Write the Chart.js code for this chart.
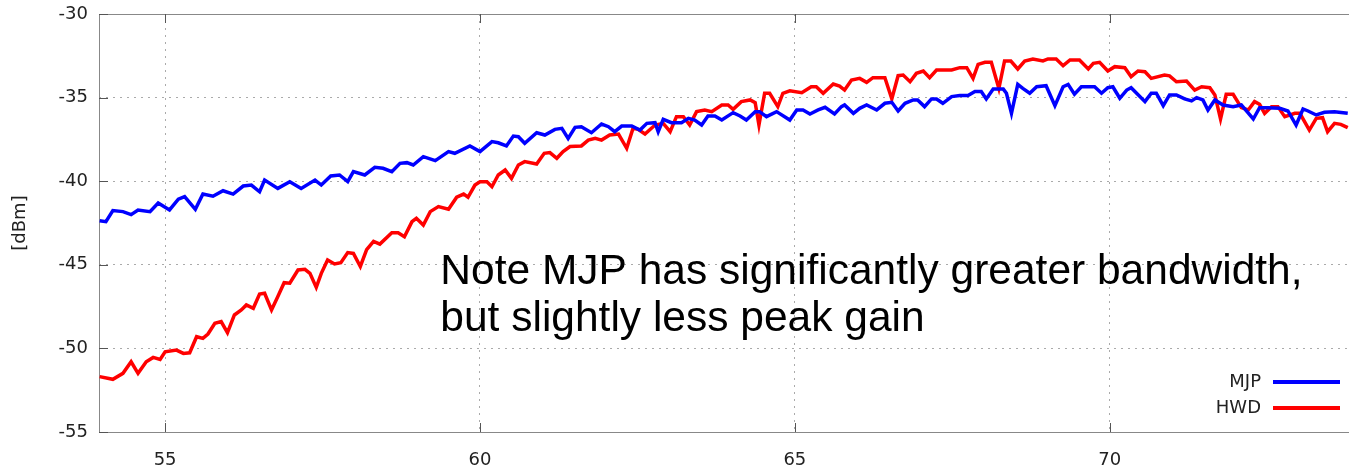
<!DOCTYPE html>
<html>
<head>
<meta charset="utf-8">
<script src="https://cdn.jsdelivr.net/npm/chart.js@4.4.1/dist/chart.umd.min.js"></script>
<style>
  html, body { margin: 0; padding: 0; background: #fff; }
  canvas { display: block; }
</style>
</head>
<body>
<canvas id="gain" width="1349" height="469"></canvas>
<script>
// ── data (frequency, level in dBm) ────────────────────────────────
const mjpX = [
  53.96, 54.06, 54.17, 54.33, 54.46, 54.57, 54.76, 54.89, 55.07, 55.21, 55.31, 55.48, 55.60, 55.76,
  55.92, 56.08, 56.24, 56.37, 56.50, 56.58, 56.79, 56.98, 57.16, 57.38, 57.48, 57.63, 57.77, 57.90,
  57.99, 58.17, 58.33, 58.46, 58.60, 58.73, 58.84, 58.94, 59.10, 59.29, 59.50, 59.60, 59.84, 60.00,
  60.19, 60.29, 60.42, 60.53, 60.61, 60.71, 60.90, 61.03, 61.19, 61.30, 61.40, 61.51, 61.61, 61.77,
  61.93, 62.04, 62.14, 62.25, 62.41, 62.54, 62.65, 62.78, 62.83, 62.91, 63.04, 63.20, 63.31, 63.41,
  63.52, 63.62, 63.73, 63.84, 64.02, 64.13, 64.23, 64.37, 64.44, 64.55, 64.71, 64.92, 65.03, 65.13,
  65.24, 65.37, 65.48, 65.63, 65.74, 65.79, 65.93, 66.03, 66.14, 66.30, 66.43, 66.54, 66.64, 66.75,
  66.88, 66.95, 67.06, 67.17, 67.25, 67.35, 67.49, 67.62, 67.75, 67.86, 67.96, 68.04, 68.15, 68.31,
  68.36, 68.44, 68.54, 68.62, 68.73, 68.84, 68.99, 69.13, 69.26, 69.34, 69.44, 69.55, 69.68, 69.76,
  69.87, 69.97, 70.05, 70.16, 70.27, 70.34, 70.56, 70.66, 70.74, 70.85, 70.95, 71.06, 71.19, 71.30,
  71.38, 71.48, 71.56, 71.67, 71.80, 71.96, 72.09, 72.28, 72.38, 72.51, 72.70, 72.83, 72.96, 73.07,
  73.15, 73.28, 73.41, 73.57, 73.78
];
const mjpY = [
  -42.36, -42.42, -41.76, -41.82, -42.00, -41.72, -41.82, -41.30, -41.72, -41.08, -40.92, -41.68, -40.77, -40.90,
  -40.57, -40.77, -40.29, -40.23, -40.63, -39.93, -40.43, -40.03, -40.43, -39.93, -40.23, -39.69, -39.63, -40.03,
  -39.43, -39.63, -39.17, -39.23, -39.43, -38.93, -38.89, -39.03, -38.53, -38.77, -38.23, -38.33, -37.89, -38.23,
  -37.63, -37.70, -37.89, -37.30, -37.34, -37.73, -37.10, -37.24, -36.90, -36.84, -37.44, -36.78, -36.74, -37.10,
  -36.58, -36.74, -37.04, -36.70, -36.70, -36.94, -36.54, -36.50, -37.04, -36.30, -36.50, -36.50, -36.24, -36.34,
  -36.64, -36.10, -36.10, -36.34, -35.90, -36.10, -36.34, -35.84, -35.84, -36.14, -35.84, -36.34, -35.74, -35.74,
  -35.98, -35.74, -35.58, -35.98, -35.54, -35.44, -35.94, -35.64, -35.44, -35.74, -35.34, -35.28, -35.80, -35.34,
  -35.14, -35.14, -35.54, -35.08, -35.08, -35.34, -34.94, -34.88, -34.88, -34.64, -34.64, -35.08, -34.49, -34.49,
  -34.74, -35.94, -34.21, -34.45, -34.74, -34.35, -34.29, -35.48, -34.35, -34.21, -34.80, -34.35, -34.35, -34.35,
  -34.74, -34.41, -34.35, -35.04, -34.55, -34.41, -35.24, -34.74, -34.74, -35.48, -34.84, -34.84, -35.08, -35.20,
  -35.00, -35.14, -35.74, -35.14, -35.44, -35.54, -35.44, -36.28, -35.60, -35.60, -35.64, -35.80, -36.64, -35.68,
  -35.80, -36.04, -35.88, -35.84, -35.94
];
const hwdX = [
  53.96, 54.17, 54.33, 54.46, 54.57, 54.70, 54.81, 54.92, 55.00, 55.18, 55.29, 55.39, 55.50, 55.60,
  55.68, 55.79, 55.89, 55.99, 56.10, 56.21, 56.29, 56.40, 56.50, 56.58, 56.69, 56.79, 56.89, 56.98,
  57.11, 57.22, 57.30, 57.40, 57.48, 57.58, 57.69, 57.79, 57.90, 57.99, 58.10, 58.20, 58.31, 58.41,
  58.60, 58.70, 58.80, 58.92, 58.99, 59.10, 59.21, 59.34, 59.50, 59.63, 59.74, 59.81, 59.92, 60.00,
  60.11, 60.19, 60.29, 60.40, 60.50, 60.61, 60.71, 60.90, 61.02, 61.11, 61.22, 61.32, 61.43, 61.61,
  61.72, 61.83, 61.93, 62.06, 62.20, 62.33, 62.43, 62.51, 62.62, 62.78, 62.91, 63.02, 63.12, 63.23,
  63.33, 63.44, 63.57, 63.68, 63.84, 63.94, 64.02, 64.15, 64.29, 64.37, 64.43, 64.52, 64.60, 64.73,
  64.81, 64.92, 65.11, 65.26, 65.34, 65.45, 65.61, 65.71, 65.79, 65.90, 66.03, 66.14, 66.24, 66.43,
  66.54, 66.64, 66.72, 66.83, 66.93, 67.04, 67.14, 67.25, 67.49, 67.62, 67.73, 67.83, 67.91, 68.02,
  68.12, 68.24, 68.33, 68.43, 68.54, 68.65, 68.78, 68.94, 69.02, 69.15, 69.26, 69.37, 69.52, 69.66,
  69.74, 69.84, 69.97, 70.08, 70.24, 70.34, 70.45, 70.56, 70.66, 70.87, 70.95, 71.06, 71.22, 71.35,
  71.46, 71.59, 71.67, 71.76, 71.85, 71.96, 72.09, 72.20, 72.30, 72.38, 72.46, 72.57, 72.67, 72.78,
  72.94, 73.02, 73.17, 73.28, 73.38, 73.46, 73.57, 73.67, 73.78
];
const hwdY = [
  -51.69, -51.85, -51.49, -50.80, -51.49, -50.80, -50.54, -50.66, -50.20, -50.10, -50.30, -50.26, -49.30, -49.40,
  -49.14, -48.50, -48.40, -49.06, -48.00, -47.70, -47.40, -47.60, -46.75, -46.70, -47.70, -46.90, -46.07, -46.10,
  -45.31, -45.27, -45.51, -46.35, -45.51, -44.71, -44.95, -44.87, -44.27, -44.32, -45.10, -44.10, -43.60, -43.76,
  -43.08, -43.08, -43.32, -42.42, -42.22, -42.62, -41.82, -41.52, -41.68, -40.96, -40.77, -40.96, -40.23, -40.03,
  -40.03, -40.33, -39.63, -39.33, -39.83, -39.03, -38.83, -38.97, -38.33, -38.29, -38.63, -38.23, -37.93, -37.89,
  -37.54, -37.44, -37.54, -37.24, -37.18, -38.03, -36.84, -36.90, -37.18, -36.64, -36.54, -37.04, -36.14, -36.14,
  -36.64, -35.84, -35.74, -35.84, -35.44, -35.44, -35.70, -35.24, -35.14, -35.30, -36.64, -34.74, -34.74, -35.54,
  -34.74, -34.59, -34.71, -34.35, -34.35, -34.74, -34.19, -34.31, -34.55, -33.95, -33.85, -34.09, -33.81, -33.81,
  -35.08, -33.69, -33.65, -34.05, -33.55, -33.41, -33.81, -33.35, -33.35, -33.21, -33.21, -33.85, -33.01, -32.89,
  -32.89, -34.45, -32.81, -32.81, -33.29, -32.81, -32.69, -32.81, -32.69, -32.69, -33.09, -32.75, -32.75, -33.29,
  -32.95, -32.89, -33.41, -33.15, -33.21, -33.75, -33.41, -33.45, -33.85, -33.65, -33.70, -34.05, -34.01, -34.55,
  -34.35, -34.41, -34.84, -36.28, -34.80, -34.80, -35.60, -35.74, -35.24, -35.40, -35.94, -35.54, -35.54, -36.14,
  -35.94, -35.94, -36.94, -36.24, -36.20, -37.04, -36.54, -36.60, -36.80
];

const seriesNames = ['MJP', 'HWD'];
const seriesColors = ['#0000ff', '#ff0000'];
const xTicks = [55, 60, 65, 70];
const yTicks = [-55, -50, -45, -40, -35, -30];
const noteLines = ['Note MJP has significantly greater bandwidth,', 'but slightly less peak gain'];

const AXIS_FONT = 'DejaVu Sans';
const TEXT_COLOR = '#222';

// gnuplot-style frame with inward tick marks
const frameTicks = {
    id: 'frameTicks',
    beforeDatasetsDraw(chart) {
        const { ctx, chartArea: a, scales } = chart;
        ctx.save();
        ctx.strokeStyle = '#888';
        ctx.lineWidth = 1;
        ctx.strokeRect(a.left + 0.5, a.top + 0.5, a.right - a.left + 4, a.bottom - a.top);
        ctx.strokeStyle = '#555';
        ctx.beginPath();
        yTicks.forEach(v => {
            const y = Math.round(scales.y.getPixelForValue(v)) + 0.5;
            ctx.moveTo(a.left, y); ctx.lineTo(a.left + 9, y);
        });
        xTicks.forEach(v => {
            const x = Math.round(scales.x.getPixelForValue(v)) + 0.5;
            ctx.moveTo(x, a.bottom); ctx.lineTo(x, a.bottom - 9);
            ctx.moveTo(x, a.top); ctx.lineTo(x, a.top + 9);
        });
        ctx.stroke();
        ctx.restore();
    },
    afterDraw(chart) {
        const { ctx, chartArea: a, scales } = chart;
        ctx.save();

        // legend, bottom right inside the plot
        ctx.font = `18px "${AXIS_FONT}"`;
        ctx.textAlign = 'right';
        ctx.textBaseline = 'middle';
        seriesNames.forEach((name, i) => {
            const y = a.bottom - 50 + i * 26;
            ctx.fillStyle = TEXT_COLOR;
            ctx.fillText(name, a.right - 88, y);
            ctx.strokeStyle = seriesColors[i];
            ctx.lineWidth = 4;
            ctx.beginPath();
            ctx.moveTo(a.right - 76, y);
            ctx.lineTo(a.right - 9, y);
            ctx.stroke();
        });

        // note text
        ctx.font = '42.5px "Liberation Sans"';
        ctx.textAlign = 'left';
        ctx.textBaseline = 'alphabetic';
        ctx.fillStyle = '#000';
        const nx = scales.x.getPixelForValue(59.37);
        const ny = scales.y.getPixelForValue(-46.15);
        noteLines.forEach((t, i) => ctx.fillText(t, nx, ny + i * 47));
        ctx.restore();
    },
};

const gridOpts = {
    color: '#aaa',
    lineWidth: 1,
    drawTicks: false,
};

new Chart(document.getElementById('gain'), {
    type: 'line',
    data: {
        datasets: [
            {
                label: seriesNames[0],
                data: mjpX.map((x, i) => ({ x, y: mjpY[i] })),
                borderColor: seriesColors[0],
                borderWidth: 3.5, pointRadius: 0, tension: 0,
            },
            {
                label: seriesNames[1],
                data: hwdX.map((x, i) => ({ x, y: hwdY[i] })),
                borderColor: seriesColors[1],
                borderWidth: 3.5, pointRadius: 0, tension: 0,
            },
        ],
    },
    options: {
        responsive: false, animation: false, devicePixelRatio: 1,
        layout: { padding: { top: 14, right: 0, left: 0, bottom: 0 } },
        plugins: { legend: { display: false }, tooltip: { enabled: false } },
        scales: {
            x: {
                type: 'linear', min: 53.95, max: 73.8,
                afterBuildTicks: s => { s.ticks = xTicks.map(value => ({ value })); },
                afterFit: s => {
                    s.height = 37;
                    s.paddingLeft = 0; s.paddingRight = 0;
                },
                grid: { ...gridOpts },
                border: { display: false, dash: [2, 5] },
                ticks: { color: TEXT_COLOR, font: { family: AXIS_FONT, size: 18 }, padding: 18, maxRotation: 0 },
            },
            y: {
                min: -55, max: -30,
                afterBuildTicks: s => { s.ticks = yTicks.map(value => ({ value })); },
                afterFit: s => {
                    s.width = 99;
                    s.paddingTop = 0; s.paddingBottom = 0;
                },
                grid: { ...gridOpts },
                border: { display: false, dash: [2, 5] },
                ticks: { color: TEXT_COLOR, font: { family: AXIS_FONT, size: 18 }, padding: 11 },
                title: {
                    display: true, text: '[dBm]', color: TEXT_COLOR,
                    font: { family: AXIS_FONT, size: 18 }, padding: { top: 10, bottom: 0 },
                },
            },
        },
    },
    plugins: [frameTicks],
});
</script>
</body>
</html>
